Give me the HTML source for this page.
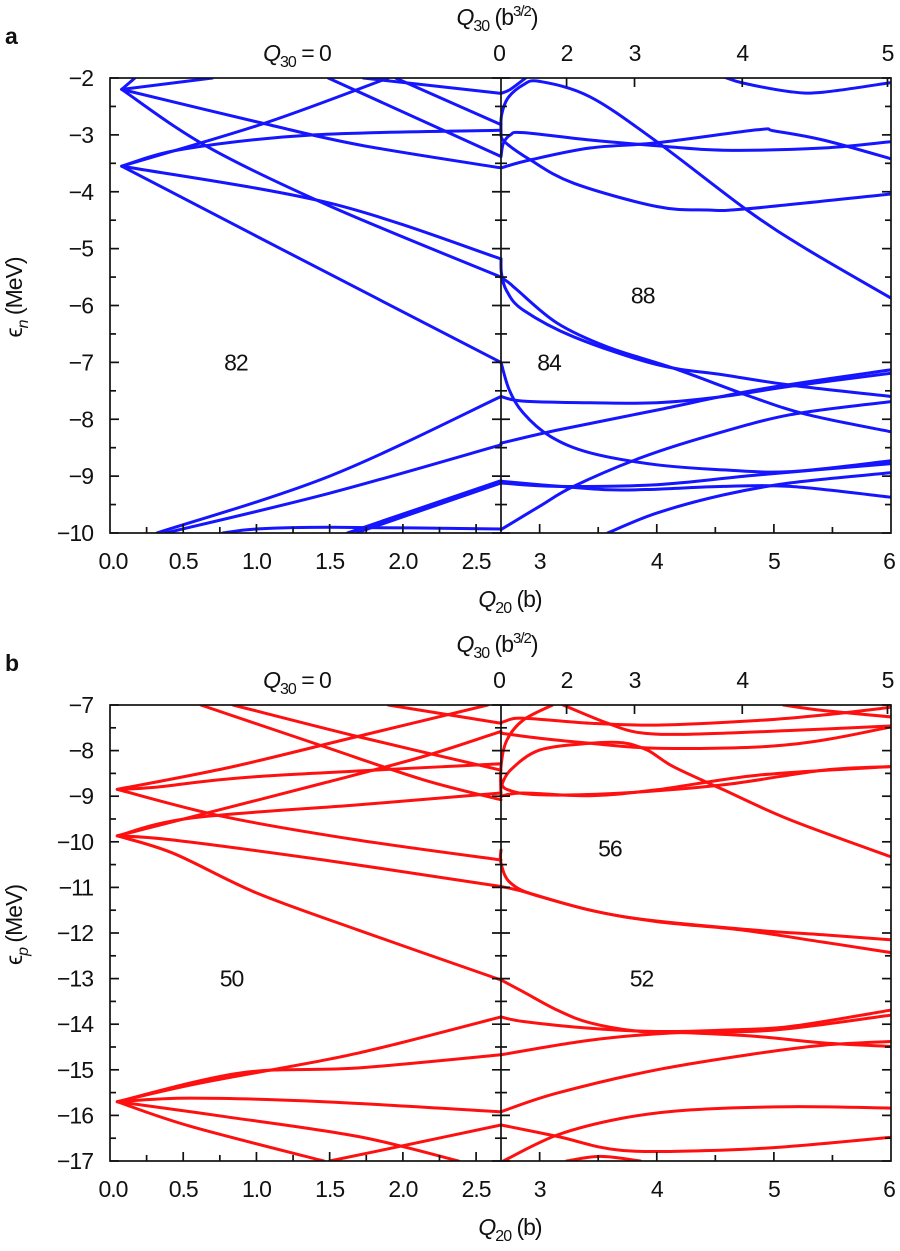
<!DOCTYPE html>
<html><head><meta charset="utf-8"><style>
html,body{margin:0;padding:0;background:#fff;}
svg{display:block;font-family:"Liberation Sans",sans-serif;}
.t{font-size:23px;fill:#111;letter-spacing:-1px;}
</style></head>
<body>
<svg id="fig" width="900" height="1251" viewBox="0 0 900 1251" xmlns="http://www.w3.org/2000/svg"></svg>
<script>
// ---------- data ----------
const leftTicks = [0, 0.5, 1.0, 1.5, 2.0, 2.5];
const leftTickLabels = ["0.0","0.5","1.0","1.5","2.0","2.5"];
const rightTicks = [3, 4, 5, 6];
const rightTickLabels = ["3","4","5","6"];
const q30TickPos = [2.67, 3.23, 3.81, 4.73, 5.97];
const q30TickLabels = ["0","2","3","4","5"];
const yTicksA = [-2,-3,-4,-5,-6,-7,-8,-9,-10];
const yTicksB = [-7,-8,-9,-10,-11,-12,-13,-14,-15,-16,-17];
const gapLabelsA = [["82",0.86,-7.0],["84",3.08,-7.0],["88",3.88,-5.82]];
const gapLabelsB = [["50",0.83,-13.0],["52",3.87,-13.0],["56",3.6,-10.15]];

const neutronLeft = [
 [[0.08,-2.2],[0.17,-2.0]],
 [[0.08,-2.2],[0.7,-2.0]],
 [[0.08,-2.2],[1.05,-2.8],[1.71,-3.18],[2.67,-3.58]],
 [[0.08,-2.2],[0.66,-3.2],[1.5,-4.25],[2.67,-5.5]],
 [[0.08,-3.55],[1.5,-4.2],[2.67,-5.18]],
 [[0.08,-3.55],[1.18,-5.02],[2.67,-7.0]],
 [[0.08,-3.55],[1.05,-2.8],[1.9,-2.0]],
 [[0.08,-3.55],[0.5,-3.25],[1.39,-3.0],[2.67,-2.92]],
 [[1.49,-2.0],[2.67,-3.38]],
 [[1.73,-2.0],[2.67,-2.27]],
 [[1.95,-2.0],[2.67,-2.82]],
 [[0.32,-10],[1.5,-9.0],[2.67,-7.6]],
 [[0.38,-10],[1.5,-9.3],[2.67,-8.45]],
 [[0.77,-10],[1.0,-9.93],[1.5,-9.9],[2.67,-9.93]],
 [[1.62,-10],[2.67,-9.08]],
 [[1.68,-10],[2.67,-9.12]]
];
const neutronRight = [
 [[2.67,-2.27],[2.75,-2.2],[2.88,-2.0]],
 [[2.67,-2.97],[2.675,-2.65],[2.73,-2.35],[2.86,-2.12],[3.0,-2.06],[3.43,-2.33],[4.0,-3.12],[4.77,-4.32],[5.29,-5.02],[6.0,-5.87]],
 [[2.67,-2.97],[2.70,-3.12],[2.92,-3.44],[3.29,-3.85],[4.0,-4.26],[4.43,-4.32],[4.77,-4.3],[6.0,-4.04]],
 [[2.67,-3.38],[2.69,-3.15],[2.75,-3.0],[2.86,-2.96],[3.43,-3.09],[4.0,-3.19],[4.57,-3.27],[5.42,-3.23],[6.0,-3.12]],
 [[2.67,-3.58],[2.92,-3.44],[3.43,-3.23],[4.0,-3.14],[4.86,-2.91],[5.0,-2.93],[5.42,-3.09],[6.0,-3.42]],
 [[4.57,-1.98],[4.74,-2.09],[5.14,-2.24],[5.42,-2.25],[6.0,-2.08]],
 [[2.67,-5.18],[2.675,-5.45],[2.72,-5.75],[2.86,-6.08],[3.29,-6.55],[4.0,-7.04],[4.57,-7.22],[5.14,-7.4],[6.0,-7.6]],
 [[2.67,-5.5],[2.75,-5.62],[2.81,-5.73],[3.15,-6.31],[3.58,-6.73],[4.14,-7.1],[4.8,-7.6],[5.29,-7.92],[6.0,-8.22]],
 [[2.67,-7.0],[2.74,-7.48],[2.86,-7.89],[3.09,-8.3],[3.43,-8.59],[4.0,-8.8],[4.57,-8.89],[5.14,-8.92],[6.0,-8.73]],
 [[2.67,-7.6],[2.86,-7.68],[3.43,-7.71],[4.0,-7.71],[4.57,-7.6],[5.14,-7.42],[6.0,-7.19]],
 [[2.67,-8.42],[3.15,-8.19],[4.0,-7.84],[4.86,-7.48],[6.0,-7.13]],
 [[2.67,-9.09],[3.0,-9.15],[3.58,-9.24],[4.0,-9.23],[4.57,-9.18],[5.14,-9.18],[6.0,-9.37]],
 [[2.67,-9.12],[3.15,-9.18],[4.0,-9.15],[4.86,-8.98],[6.0,-8.78]],
 [[2.67,-9.94],[3.0,-9.53],[3.29,-9.18],[3.86,-8.68],[4.43,-8.3],[5.14,-7.92],[6.0,-7.69]],
 [[3.58,-10],[4.0,-9.65],[4.57,-9.33],[5.14,-9.12],[6.0,-8.94]]
];
const protonLeft = [
 [[0.05,-8.85],[0.84,-8.35],[1.69,-7.69],[2.58,-7.0]],
 [[0.05,-8.85],[0.32,-8.8],[1.0,-8.57],[2.67,-8.29]],
 [[0.05,-8.85],[0.78,-9.45],[1.69,-9.96],[2.67,-10.4]],
 [[0.05,-9.87],[0.66,-9.37],[1.46,-8.71],[2.14,-8.13],[2.67,-7.58]],
 [[0.05,-9.87],[0.55,-9.48],[1.69,-9.19],[2.67,-8.93]],
 [[0.05,-9.87],[0.43,-9.96],[1.46,-10.4],[2.67,-10.98]],
 [[0.05,-9.87],[0.43,-10.25],[1.0,-11.12],[1.69,-11.93],[2.67,-13.03]],
 [[0.62,-7.0],[1.46,-7.91],[2.14,-8.64],[2.67,-9.08]],
 [[0.84,-7.0],[1.69,-7.69],[2.67,-8.43]],
 [[1.9,-7.0],[2.67,-7.4]],
 [[0.05,-15.7],[0.6,-15.3],[1.46,-14.79],[1.92,-14.46],[2.67,-13.84]],
 [[0.05,-15.7],[0.89,-15.07],[1.69,-14.96],[2.67,-14.67]],
 [[0.05,-15.7],[0.55,-15.62],[1.46,-15.7],[2.67,-15.92]],
 [[0.05,-15.7],[0.77,-16.02],[1.69,-16.46],[2.38,-17]],
 [[0.05,-15.7],[0.55,-16.24],[1.46,-17]],
 [[1.5,-17],[1.92,-16.72],[2.67,-16.21]]
];
const protonRight = [
 [[2.67,-7.4],[2.7,-7.36],[2.86,-7.29],[3.43,-7.4],[4.0,-7.44],[4.86,-7.34],[5.42,-7.22],[6.0,-7.05]],
 [[5.08,-7.0],[5.42,-7.12],[6.0,-7.26]],
 [[2.67,-7.62],[3.0,-7.73],[3.43,-7.84],[4.0,-7.95],[4.86,-7.92],[5.42,-7.77],[6.0,-7.48]],
 [[3.2,-7.0],[3.58,-7.4],[3.86,-7.61],[4.29,-7.64],[5.14,-7.56],[6.0,-7.46]],
 [[2.67,-9.01],[2.67,-8.35],[2.72,-7.77],[2.86,-7.33],[3.11,-7.0]],
 [[2.67,-8.79],[2.75,-8.43],[3.0,-7.99],[3.43,-7.84],[3.71,-7.83],[3.92,-7.99],[4.14,-8.35],[4.57,-8.86],[5.14,-9.52],[6.0,-10.33]],
 [[2.67,-8.64],[2.72,-8.85],[3.0,-8.97],[3.71,-8.93],[4.57,-8.75],[5.42,-8.43],[6.0,-8.35]],
 [[2.67,-9.0],[2.86,-8.93],[3.43,-8.99],[4.0,-8.86],[4.86,-8.54],[6.0,-8.35]],
 [[2.67,-10.18],[2.67,-10.47],[2.75,-10.9],[3.0,-11.2],[3.71,-11.64],[4.71,-11.91],[5.42,-12.04],[6.0,-12.15]],
 [[2.67,-10.98],[2.86,-11.09],[3.43,-11.5],[4.0,-11.75],[4.71,-11.93],[5.42,-12.2],[6.0,-12.43]],
 [[2.67,-13.03],[2.86,-13.29],[3.15,-13.69],[3.43,-13.97],[3.86,-14.16],[4.29,-14.19],[4.86,-14.27],[5.42,-14.41],[6.0,-14.49]],
 [[2.67,-13.84],[2.86,-13.94],[3.43,-14.09],[4.0,-14.16],[4.57,-14.13],[5.14,-14.05],[6.0,-13.69]],
 [[2.67,-14.67],[3.43,-14.35],[4.14,-14.19],[5.0,-14.13],[6.0,-13.8]],
 [[2.67,-15.92],[3.15,-15.51],[4.0,-15.0],[4.86,-14.64],[5.42,-14.46],[6.0,-14.38]],
 [[2.67,-16.21],[3.15,-16.46],[3.71,-16.77],[4.57,-16.76],[5.14,-16.68],[6.0,-16.48]],
 [[2.69,-17],[3.15,-16.43],[3.71,-16.06],[4.29,-15.88],[5.14,-15.81],[6.0,-15.84]],
 [[3.23,-17],[3.52,-16.9],[3.86,-17]]
];

// ---------- drawing ----------
const NS = "http://www.w3.org/2000/svg";
const svg = document.getElementById("fig");
const X0 = 110, XD = 501, X1 = 891, QD = 2.67;
function xs(q){ return q <= QD ? X0 + q*(XD-X0)/QD : XD + (q-QD)*(X1-XD)/(6-QD); }
function mk(tag, attrs, parent){ const e=document.createElementNS(NS,tag); for(const k in attrs) e.setAttribute(k,attrs[k]); (parent||svg).appendChild(e); return e; }
function txt(s, x, y, anchor, parent, cls){ const t=mk("text",{x:x,y:y,"text-anchor":anchor||"middle","class":cls||"t"},parent); t.textContent=s; return t; }
function spline(pts){
  if(pts.length===2) return `M${pts[0][0]},${pts[0][1]}L${pts[1][0]},${pts[1][1]}`;
  let d=`M${pts[0][0]},${pts[0][1]}`;
  for(let i=0;i<pts.length-1;i++){
    const p0=pts[Math.max(0,i-1)],p1=pts[i],p2=pts[i+1],p3=pts[Math.min(pts.length-1,i+2)];
    const c1=[p1[0]+(p2[0]-p0[0])/6,p1[1]+(p2[1]-p0[1])/6];
    const c2=[p2[0]-(p3[0]-p1[0])/6,p2[1]-(p3[1]-p1[1])/6];
    d+=`C${c1[0].toFixed(1)},${c1[1].toFixed(1)} ${c2[0].toFixed(1)},${c2[1].toFixed(1)} ${p2[0].toFixed(1)},${p2[1].toFixed(1)}`;
  }
  return d;
}

function panel(cfg){
  const g = mk("g",{});
  
  
  const ys = e => cfg.top + (cfg.yMax - e)*(cfg.bot-cfg.top)/(cfg.yMax-cfg.yMin);
  const cid = cfg.name+"-clip";
  const cp = mk("clipPath",{id:cid},g);
  mk("rect",{x:X0,y:cfg.top,width:X1-X0,height:cfg.bot-cfg.top},cp);
  const cg = mk("g",{"clip-path":`url(#${cid})`},g);
  const allCurves = cfg.left.concat(cfg.right);
  allCurves.forEach((c,i)=>{
    const p = mk("path",{d:spline(c.map(pt=>[xs(pt[0]),ys(pt[1])])),fill:"none",stroke:cfg.color,"stroke-width":3,"stroke-linejoin":"round","stroke-linecap":"round"},cg);
    
    
  });
  const ax = mk("g",{stroke:"#111","stroke-width":1.7,fill:"none"},g);
  
  
  mk("rect",{x:X0,y:cfg.top,width:X1-X0,height:cfg.bot-cfg.top},ax);
  mk("line",{x1:XD,y1:cfg.top,x2:XD,y2:cfg.bot},ax);
  for(let v=cfg.yMax; v>=cfg.yMin-0.01; v-=0.5){
    const y=ys(v), major=Math.abs(v-Math.round(v))<0.01, L=major?9:6;
    mk("line",{x1:X0,y1:y,x2:X0+L,y2:y},ax);
    mk("line",{x1:XD-L,y1:y,x2:XD+L,y2:y},ax);
    mk("line",{x1:X1-L,y1:y,x2:X1,y2:y},ax);
  }
  cfg.yTicks.forEach(v=>{
    const t=txt(String(v).replace("-","\u2212"),93,ys(v)+8,"end",g);
    
    
  });
  for(let q=0.25;q<QD-0.05;q+=0.25){ const x=xs(q), L=(Math.abs(q*2-Math.round(q*2))<0.01)?9:6; mk("line",{x1:x,y1:cfg.bot,x2:x,y2:cfg.bot-L},ax); }
  for(let q=3;q<6;q+=0.5){ const x=xs(q), L=Number.isInteger(q)?9:6; mk("line",{x1:x,y1:cfg.bot,x2:x,y2:cfg.bot-L},ax); }
  leftTicks.forEach((q,i)=>{ const t=txt(leftTickLabels[i],xs(q)+(i===0?3:0),cfg.bot+36,"middle",g);   });
  rightTicks.forEach((q,i)=>{ const t=txt(rightTickLabels[i],xs(q)+(i===3?-2:0),cfg.bot+36,"middle",g);   });
  q30TickPos.forEach((q,i)=>{ const x=xs(q); if(i>0) mk("line",{x1:x,y1:cfg.top,x2:x,y2:cfg.top+9},ax);
    const t=txt(q30TickLabels[i],x-(i===0?2:0),cfg.top-17,"middle",g);   });
  const q30z = txt("",297,cfg.top-17,"middle",g);
  q30z.innerHTML = '<tspan font-style="italic">Q</tspan><tspan font-size="16" dy="6">30</tspan><tspan dy="-6"> = 0</tspan>';
   
  const q30t = txt("",497,cfg.top-53,"middle",g);
  q30t.innerHTML = '<tspan font-style="italic">Q</tspan><tspan font-size="16" dy="6">30</tspan><tspan dy="-6"> (b</tspan><tspan font-size="15" dy="-9">3/2</tspan><tspan dy="9">)</tspan>';
   
  const q20t = txt("",510,cfg.bot+74,"middle",g);
  q20t.innerHTML = '<tspan font-style="italic">Q</tspan><tspan font-size="16" dy="6">20</tspan><tspan dy="-6"> (b)</tspan>';
   
  const cy=(cfg.top+cfg.bot)/2-8;
  const yt = txt("",0,0,"middle",g);
  yt.setAttribute("transform",`translate(22,${cy}) rotate(-90)`);
  yt.innerHTML = `<tspan>\u03f5</tspan><tspan font-size="16" dy="6" font-style="italic">${cfg.sub}</tspan><tspan dy="-6"> (MeV)</tspan>`;
   
  const pl = txt(cfg.letter,5,cfg.top-34,"start",g);
  pl.setAttribute("font-weight","bold"); pl.setAttribute("font-size","27");
   
  cfg.gaps.forEach(a=>{ const t=txt(a[0],xs(a[1]),ys(a[2])+8,"middle",g);   });
}
panel({name:"panel-a-neutron",series:"neutron",color:"#1515ff",top:78,bot:533,yMax:-2,yMin:-10,yTicks:yTicksA,left:neutronLeft,right:neutronRight,sub:"n",letter:"a",gaps:gapLabelsA});
panel({name:"panel-b-proton",series:"proton",color:"#ff1010",top:705,bot:1161,yMax:-7,yMin:-17,yTicks:yTicksB,left:protonLeft,right:protonRight,sub:"p",letter:"b",gaps:gapLabelsB});
</script>
</body></html>
